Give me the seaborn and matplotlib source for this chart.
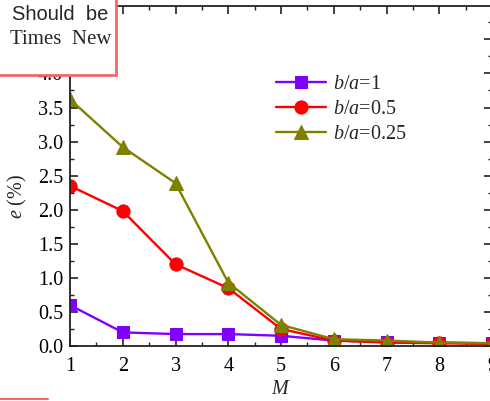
import matplotlib
matplotlib.use("Agg")
import matplotlib.pyplot as plt
import seaborn as sns
import pandas as pd
from matplotlib.lines import Line2D
from matplotlib.patches import Rectangle
from matplotlib.ticker import MultipleLocator

M = [1, 2, 3, 4, 5, 6, 7, 8, 9]
e_ba1 = [0.60, 0.20, 0.175, 0.175, 0.15, 0.08, 0.06, 0.05, 0.04]
e_ba05 = [2.35, 1.98, 1.20, 0.85, 0.25, 0.08, 0.05, 0.04, 0.03]
e_ba025 = [3.62, 2.92, 2.39, 0.93, 0.31, 0.10, 0.08, 0.05, 0.04]
labels = [r"$b$/$a$=1", r"$b$/$a$=0.5", r"$b$/$a$=0.25"]

sns.set_theme(style="ticks")
plt.rcParams["font.family"] = ["Liberation Serif", "DejaVu Serif"]
plt.rcParams["mathtext.fontset"] = "custom"
plt.rcParams["mathtext.rm"] = "Liberation Serif"
plt.rcParams["mathtext.it"] = "Liberation Serif:italic"

df = pd.DataFrame({
    "M": M * 3,
    "e": e_ba1 + e_ba05 + e_ba025,
    "series": [labels[0]] * 9 + [labels[1]] * 9 + [labels[2]] * 9,
})

fig = plt.figure(figsize=(4.9, 4.01), dpi=100)
ax = fig.add_axes([70 / 490, 1 - 346 / 401, 422 / 490, 340 / 401])

colors = ["#8000FF", "#FF0000", "#808000"]
markers = ["s", "o", "^"]
sizes = [8.5, 9.5, 10.5]
for lab, c, m, s in zip(labels, colors, markers, sizes):
    sub = df[df["series"] == lab]
    sns.lineplot(data=sub, x="M", y="e", ax=ax, color=c, marker=m,
                 markersize=s, markeredgecolor=c, linewidth=1.7, label=lab)

ax.set_xlim(1, 9)
ax.set_ylim(0, 4.99)
ax.xaxis.set_major_locator(MultipleLocator(1))
ax.xaxis.set_minor_locator(MultipleLocator(0.5))
ax.yaxis.set_major_locator(MultipleLocator(0.5))
ax.yaxis.set_minor_locator(MultipleLocator(0.25))
ax.yaxis.set_major_formatter(matplotlib.ticker.FormatStrFormatter("%.1f"))
ax.tick_params(which="both", direction="in", top=True, right=True,
               labelsize=14.5, colors="#222222", labelcolor="black")
ax.tick_params(axis="x", which="major", pad=8)
ax.tick_params(axis="y", which="major", pad=5)
ax.tick_params(which="major", length=6, width=1.2)
ax.tick_params(which="minor", length=3, width=1.0)
for sp in ax.spines.values():
    sp.set_linewidth(1.3)
    sp.set_color("#222222")

ax.set_xlabel(r"$M$", fontsize=14.5, labelpad=3)
ax.set_ylabel(r"$e$ (%)", fontsize=14.5)
ax.yaxis.set_label_coords(-0.096, 0.44)

leg = ax.legend(loc="upper left", bbox_to_anchor=(0.468, 0.822), frameon=False,
                fontsize=14.5, handlelength=2.5, handletextpad=0.35,
                labelspacing=0.3, borderaxespad=0)

# annotation box overlay
fig.patches.append(Rectangle((-2, 401 - 75), 118, 80, transform=None,
                             facecolor="white", edgecolor="#F06868",
                             linewidth=2, zorder=10))
fig.text(12 / 490, 1 - 20 / 401, "Should  be", fontsize=14.5,
         family="Liberation Sans", zorder=11)
fig.text(10 / 490, 1 - 44 / 401, "Times  New", fontsize=15,
         family="Liberation Serif", zorder=11)
fig.add_artist(Line2D([0, 48 / 490], [1 - 398.5 / 401, 1 - 398.5 / 401],
                      color="#F06868", linewidth=1.5))

fig.savefig("out.png", dpi=100)
